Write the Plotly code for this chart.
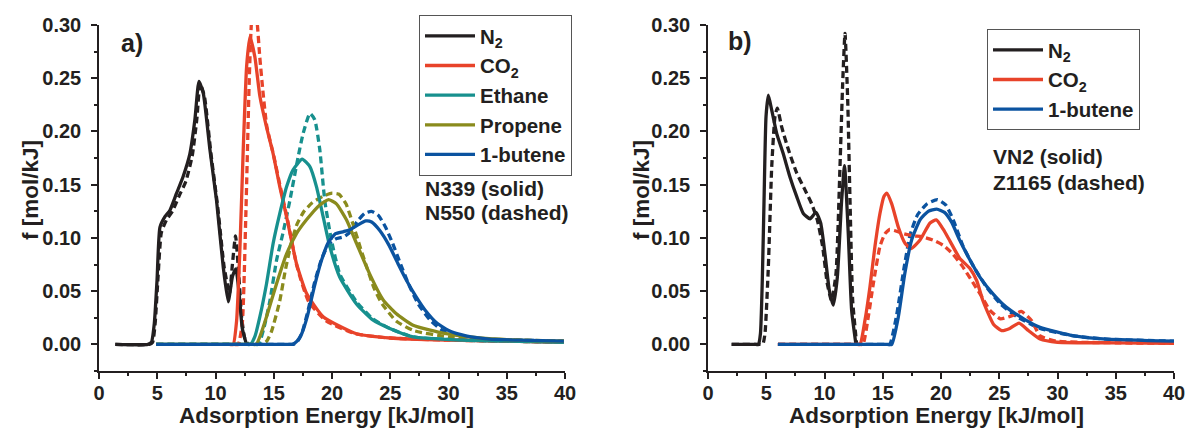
import plotly.graph_objects as go

# ---------------- data: panel a) ----------------
a_n2_solid_E = [1.4, 4.2, 4.5, 4.75, 4.98, 5.23, 5.66, 6.09, 6.66, 7.23, 7.8, 8.23, 8.58, 8.95, 9.52, 10.09, 10.66, 11.09, 11.46, 11.75, 12.05, 12.3, 12.66]
a_n2_solid_f = [0.0, 0.0, 0.002, 0.02, 0.06, 0.110, 0.120, 0.126, 0.142, 0.158, 0.179, 0.211, 0.247, 0.236, 0.183, 0.135, 0.073, 0.040, 0.064, 0.071, 0.045, 0.015, 0.0]
a_n2_dash_E = [1.4, 4.3, 4.6, 4.82, 5.05, 5.35, 5.8, 6.3, 6.9, 7.45, 8.0, 8.4, 8.68, 9.05, 9.6, 10.2, 10.75, 11.2, 11.45, 11.72, 12.0, 12.25, 12.5, 12.8]
a_n2_dash_f = [0.0, 0.0, 0.002, 0.02, 0.06, 0.105, 0.117, 0.125, 0.140, 0.153, 0.177, 0.212, 0.245, 0.233, 0.180, 0.128, 0.072, 0.048, 0.075, 0.102, 0.065, 0.025, 0.006, 0.0]

a_co2_solid_E = [11.2, 11.52, 11.81, 12.09, 12.38, 12.67, 12.95, 13.38, 13.81, 14.38, 14.95, 15.52, 16.1, 16.95, 17.81, 19.24, 22.1, 25.0, 29.8, 35.0, 39.9]
a_co2_solid_f = [0.0, 0.0, 0.022, 0.088, 0.183, 0.261, 0.289, 0.270, 0.233, 0.204, 0.179, 0.148, 0.120, 0.076, 0.048, 0.026, 0.010, 0.006, 0.004, 0.003, 0.002]
a_co2_dash_E = [11.6, 11.95, 12.3, 12.6, 12.9, 13.1, 13.3, 13.55, 13.8, 14.05, 14.4, 15.0, 15.6, 16.2, 17.0, 18.0, 19.5, 22.0, 25.0, 30.0, 35.0, 39.9]
a_co2_dash_f = [0.0, 0.0, 0.02, 0.12, 0.25, 0.305, 0.318, 0.305, 0.27, 0.24, 0.205, 0.177, 0.146, 0.116, 0.073, 0.040, 0.022, 0.010, 0.006, 0.004, 0.003, 0.002]

a_eth_solid_E = [4.9, 12.6, 13.0, 13.4, 13.81, 14.38, 14.95, 15.52, 16.1, 16.66, 17.44, 18.1, 18.67, 19.24, 19.81, 20.67, 22.1, 23.5, 24.96, 26.96, 31.2, 35.0, 39.9]
a_eth_solid_f = [0.0, 0.0, 0.0, 0.008, 0.026, 0.057, 0.095, 0.123, 0.148, 0.164, 0.174, 0.167, 0.148, 0.120, 0.092, 0.063, 0.038, 0.023, 0.015, 0.007, 0.004, 0.003, 0.002]
a_eth_dash_E = [4.9, 13.3, 13.7, 14.15, 14.67, 15.24, 15.8, 16.38, 17.09, 17.52, 18.1, 18.52, 18.95, 19.38, 19.95, 20.67, 22.1, 23.5, 24.96, 26.96, 31.2, 35.0, 39.9]
a_eth_dash_f = [0.0, 0.0, 0.0, 0.015, 0.041, 0.079, 0.105, 0.135, 0.176, 0.198, 0.217, 0.211, 0.183, 0.135, 0.098, 0.066, 0.040, 0.024, 0.015, 0.007, 0.004, 0.003, 0.002]

a_pro_solid_E = [4.9, 13.1, 13.5, 13.9, 14.38, 15.24, 16.1, 16.95, 17.81, 18.95, 19.7, 20.38, 21.24, 22.1, 23.24, 24.38, 25.5, 26.96, 29.8, 32.7, 36.0, 39.9]
a_pro_solid_f = [0.0, 0.0, 0.0, 0.01, 0.026, 0.057, 0.085, 0.104, 0.117, 0.131, 0.136, 0.132, 0.117, 0.095, 0.066, 0.042, 0.029, 0.018, 0.010, 0.006, 0.004, 0.003]
a_pro_dash_E = [4.9, 13.6, 14.0, 14.4, 14.8, 15.5, 16.0, 16.5, 17.0, 17.6, 18.3, 19.2, 20.0, 20.6, 21.2, 21.8, 22.4, 23.0, 23.6, 24.3, 25.5, 27.0, 30.0, 33.0, 39.9]
a_pro_dash_f = [0.0, 0.0, 0.0, 0.003, 0.012, 0.04, 0.07, 0.095, 0.113, 0.125, 0.133, 0.139, 0.142, 0.141, 0.132, 0.113, 0.092, 0.072, 0.053, 0.038, 0.022, 0.013, 0.007, 0.005, 0.003]

a_but_solid_E = [4.9, 16.2, 16.6, 17.0, 17.4, 17.9, 18.5, 19.1, 19.7, 20.3, 21.0, 21.6, 22.2, 22.9, 23.4, 24.1, 24.9, 25.7, 26.4, 27.2, 28.0, 29.0, 30.2, 31.5, 33.5, 36.0, 39.9]
a_but_solid_f = [0.0, 0.0, 0.0, 0.003, 0.010, 0.027, 0.055, 0.079, 0.096, 0.104, 0.106, 0.108, 0.112, 0.116, 0.115, 0.107, 0.093, 0.075, 0.060, 0.045, 0.032, 0.020, 0.012, 0.008, 0.005, 0.004, 0.003]
a_but_dash_E = [4.9, 16.3, 16.7, 17.05, 17.4, 17.9, 18.5, 19.1, 19.7, 20.3, 21.0, 21.6, 22.2, 22.8, 23.4, 24.0, 24.6, 25.2, 25.9, 26.6, 27.4, 28.4, 29.5, 31.0, 33.0, 36.0, 39.9]
a_but_dash_f = [0.0, 0.0, 0.0, 0.003, 0.010, 0.030, 0.058, 0.080, 0.094, 0.099, 0.101, 0.106, 0.116, 0.123, 0.125, 0.121, 0.110, 0.095, 0.075, 0.056, 0.038, 0.023, 0.013, 0.008, 0.005, 0.004, 0.003]

# ---------------- data: panel b) ----------------
b_n2_solid_E = [2.03, 4.0, 4.32, 4.5, 4.66, 4.81, 4.98, 5.18, 5.47, 5.9, 6.46, 7.04, 7.61, 8.18, 8.76, 9.27, 9.67, 10.04, 10.41, 10.76, 11.1, 11.47, 11.72, 12.04, 12.33, 12.7]
b_n2_solid_f = [0.0, 0.0, 0.0, 0.01, 0.06, 0.135, 0.214, 0.234, 0.220, 0.198, 0.179, 0.157, 0.139, 0.123, 0.118, 0.124, 0.114, 0.085, 0.051, 0.037, 0.063, 0.135, 0.168, 0.104, 0.032, 0.0]
b_n2_dash_E = [2.03, 4.4, 4.7, 4.89, 5.18, 5.47, 5.75, 5.95, 6.33, 6.9, 7.61, 8.33, 8.9, 9.38, 9.84, 10.24, 10.61, 10.99, 11.33, 11.56, 11.76, 11.99, 12.19, 12.42, 12.76]
b_n2_dash_f = [0.0, 0.0, 0.0, 0.01, 0.073, 0.167, 0.214, 0.222, 0.204, 0.183, 0.161, 0.145, 0.132, 0.117, 0.092, 0.057, 0.041, 0.067, 0.167, 0.245, 0.292, 0.230, 0.135, 0.041, 0.0]

b_co2_solid_E = [6.0, 12.7, 13.05, 13.48, 13.9, 14.33, 14.76, 15.1, 15.34, 15.77, 16.34, 16.91, 17.45, 18.2, 19.06, 19.6, 20.2, 20.77, 21.6, 22.5, 23.06, 23.6, 24.5, 25.2, 25.9, 26.7, 27.5, 28.5, 30.0, 35.0, 40.0]
b_co2_solid_f = [0.0, 0.0, 0.0, 0.023, 0.054, 0.092, 0.123, 0.139, 0.142, 0.132, 0.110, 0.095, 0.090, 0.098, 0.114, 0.117, 0.108, 0.097, 0.081, 0.071, 0.060, 0.041, 0.019, 0.013, 0.015, 0.020, 0.013, 0.005, 0.002, 0.0015, 0.001]
b_co2_dash_E = [6.0, 12.95, 13.3, 13.76, 14.19, 14.76, 15.2, 15.6, 16.0, 16.8, 17.6, 18.4, 19.3, 20.2, 21.0, 21.8, 22.8, 23.6, 24.2, 25.1, 26.1, 26.9, 27.8, 28.5, 29.9, 35.0, 40.0]
b_co2_dash_f = [0.0, 0.0, 0.0, 0.026, 0.057, 0.092, 0.104, 0.108, 0.107, 0.104, 0.102, 0.101, 0.098, 0.093, 0.085, 0.074, 0.057, 0.043, 0.032, 0.024, 0.027, 0.031, 0.022, 0.008, 0.003, 0.0015, 0.001]

b_but_solid_E = [6.0, 15.4, 15.77, 16.34, 16.9, 17.48, 18.2, 18.9, 19.63, 20.3, 20.9, 21.6, 22.5, 23.35, 24.5, 25.6, 27.1, 28.5, 31.4, 34.2, 40.0]
b_but_solid_f = [0.0, 0.0, 0.0, 0.026, 0.067, 0.098, 0.117, 0.125, 0.127, 0.124, 0.115, 0.098, 0.079, 0.063, 0.047, 0.035, 0.024, 0.016, 0.008, 0.005, 0.003]
b_but_dash_E = [6.0, 15.25, 15.6, 16.2, 16.8, 17.35, 18.0, 18.8, 19.7, 20.4, 21.05, 21.9, 22.8, 23.9, 25.1, 26.5, 28.5, 31.4, 34.2, 40.0]
b_but_dash_f = [0.0, 0.0, 0.0, 0.028, 0.07, 0.103, 0.122, 0.132, 0.136, 0.131, 0.117, 0.092, 0.073, 0.054, 0.038, 0.026, 0.015, 0.008, 0.005, 0.003]

# ---------------- labels / styling ----------------
x_ticks = [0, 5, 10, 15, 20, 25, 30, 35, 40]
y_ticks = [0.00, 0.05, 0.10, 0.15, 0.20, 0.25, 0.30]
y_ticklabels = ["0.00", "0.05", "0.10", "0.15", "0.20", "0.25", "0.30"]

BLACK = "#231f20"
RED = "#e8432a"
TEAL = "#17908e"
OLIVE = "#8a8b1d"
BLUE = "#0b53a0"
FONT = "Liberation Sans"

fig = go.Figure()

def add(E, f, color, name, dashed, xa, ya, legend, show):
    fig.add_trace(go.Scatter(
        x=E, y=f, mode="lines", name=name,
        line=dict(color=color, width=3.3, dash="7px,4px" if dashed else "solid",
                  shape="spline", smoothing=0.5),
        xaxis=xa, yaxis=ya, legend=legend, showlegend=show, hoverinfo="skip"))

# panel a: dashed first, solid drawn on top
add(a_n2_dash_E, a_n2_dash_f, BLACK, "N<sub>2</sub>", True, "x", "y", "legend", False)
add(a_but_dash_E, a_but_dash_f, BLUE, "1-butene", True, "x", "y", "legend", False)
add(a_pro_dash_E, a_pro_dash_f, OLIVE, "Propene", True, "x", "y", "legend", False)
add(a_eth_dash_E, a_eth_dash_f, TEAL, "Ethane", True, "x", "y", "legend", False)
add(a_co2_dash_E, a_co2_dash_f, RED, "CO<sub>2</sub>", True, "x", "y", "legend", False)
add(a_n2_solid_E, a_n2_solid_f, BLACK, "N<sub>2</sub>", False, "x", "y", "legend", True)
add(a_co2_solid_E, a_co2_solid_f, RED, "CO<sub>2</sub>", False, "x", "y", "legend", True)
add(a_eth_solid_E, a_eth_solid_f, TEAL, "Ethane", False, "x", "y", "legend", True)
add(a_pro_solid_E, a_pro_solid_f, OLIVE, "Propene", False, "x", "y", "legend", True)
add(a_but_solid_E, a_but_solid_f, BLUE, "1-butene", False, "x", "y", "legend", True)

# panel b
add(b_n2_dash_E, b_n2_dash_f, BLACK, "N<sub>2</sub>", True, "x2", "y2", "legend2", False)
add(b_but_dash_E, b_but_dash_f, BLUE, "1-butene", True, "x2", "y2", "legend2", False)
add(b_co2_dash_E, b_co2_dash_f, RED, "CO<sub>2</sub>", True, "x2", "y2", "legend2", False)
add(b_n2_solid_E, b_n2_solid_f, BLACK, "N<sub>2</sub>", False, "x2", "y2", "legend2", True)
add(b_co2_solid_E, b_co2_solid_f, RED, "CO<sub>2</sub>", False, "x2", "y2", "legend2", True)
add(b_but_solid_E, b_but_solid_f, BLUE, "1-butene", False, "x2", "y2", "legend2", True)

W, H = 1187, 429
YDOM = [1 - 371 / H, 1 - 25 / H]
tickfont = dict(family=FONT, size=20, color="#231f20", weight="bold")

def xaxis(dom, anchor):
    return dict(domain=dom, anchor=anchor, range=[0, 40], tickvals=x_ticks,
                ticks="outside", ticklen=6, tickwidth=1.5, tickcolor="#231f20",
                minor=dict(ticks="outside", ticklen=3.5, dtick=2.5, tickwidth=1.5, tickcolor="#231f20"),
                showline=True, linecolor="#231f20", linewidth=1.5, showgrid=False,
                zeroline=False, tickfont=tickfont, ticklabelstandoff=-3, automargin=False)

def yaxis(anchor):
    return dict(domain=YDOM, anchor=anchor, range=[-0.025, 0.30], tickvals=y_ticks,
                ticktext=y_ticklabels, ticks="outside", ticklen=6, tickwidth=1.5,
                tickcolor="#231f20",
                minor=dict(ticks="outside", ticklen=3.5, dtick=0.025, tickwidth=1.5, tickcolor="#231f20"),
                showline=True, linecolor="#231f20", linewidth=1.5, showgrid=False,
                zeroline=False, tickfont=tickfont, ticklabelstandoff=6, automargin=False)

legfont = dict(family=FONT, size=20.5, color="#231f20", weight="bold")

fig.update_layout(
    width=W, height=H, margin=dict(l=0, r=0, t=0, b=0, autoexpand=False),
    paper_bgcolor="white", plot_bgcolor="white",
    xaxis=xaxis([99 / W, 565 / W], "y"),
    yaxis=yaxis("x"),
    xaxis2=xaxis([708 / W, 1174 / W], "y2"),
    yaxis2=yaxis("x2"),
    legend=dict(x=419 / W, y=1 - 15 / H, xanchor="left", yanchor="top",
                bordercolor="#555555", borderwidth=1, bgcolor="white",
                font=legfont, tracegroupgap=0, itemwidth=50),
    legend2=dict(x=987 / W, y=1 - 29 / H, xanchor="left", yanchor="top",
                 bordercolor="#555555", borderwidth=1, bgcolor="white",
                 font=legfont, tracegroupgap=0, itemwidth=50),
    showlegend=True,
)

ann_font = dict(family=FONT, size=21, color="#231f20", weight="bold")
title_font = dict(family=FONT, size=22.5, color="#231f20", weight="bold")
lab_font = dict(family=FONT, size=25, color="#231f20", weight="bold")
annotations = [
    dict(text="a)", x=132 / W, y=1 - 43 / H, font=lab_font),
    dict(text="b)", x=740 / W, y=1 - 41 / H, font=lab_font),
    dict(text="N339 (solid)", x=423 / W, y=1 - 188 / H, xanchor="left", font=ann_font),
    dict(text="N550 (dashed)", x=423 / W, y=1 - 213 / H, xanchor="left", font=ann_font),
    dict(text="VN2 (solid)", x=991 / W, y=1 - 156 / H, xanchor="left", font=ann_font),
    dict(text="Z1165 (dashed)", x=991 / W, y=1 - 182 / H, xanchor="left", font=ann_font),
    dict(text="Adsorption Energy [kJ/mol]", x=326 / W, y=1 - 415 / H, font=title_font),
    dict(text="Adsorption Energy [kJ/mol]", x=936 / W, y=1 - 415 / H, font=title_font),
    dict(text="f [mol/kJ]", x=30 / W, y=1 - 190 / H, textangle=-90, font=title_font),
    dict(text="f [mol/kJ]", x=641 / W, y=1 - 190 / H, textangle=-90, font=title_font),
]
for a in annotations:
    a.setdefault("xanchor", "center")
    a.update(xref="paper", yref="paper", yanchor="middle", showarrow=False)
fig.update_layout(annotations=annotations)

fig.write_html("out.html")
